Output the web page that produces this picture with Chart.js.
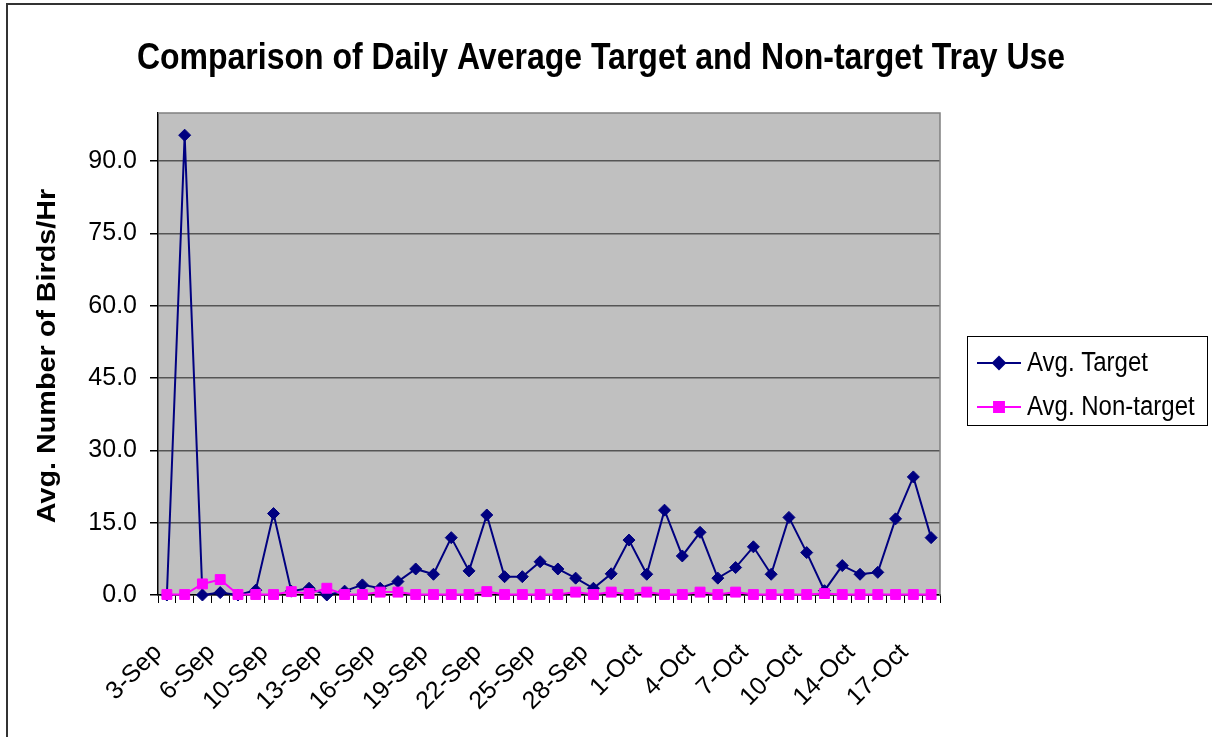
<!DOCTYPE html>
<html>
<head>
<meta charset="utf-8">
<script src="https://cdn.jsdelivr.net/npm/chart.js@4/dist/chart.umd.min.js"></script>
<style>
html,body{margin:0;padding:0;background:#fff;}
canvas{display:block;}
</style>
</head>
<body>
<canvas id="c" width="1212" height="737"></canvas>
<script>
const chartTitle = 'Comparison of Daily Average Target and Non-target Tray Use';
const yAxisTitle = 'Avg. Number of Birds/Hr';
const categories = ['3-Sep','4-Sep','5-Sep','6-Sep','7-Sep','8-Sep','10-Sep','11-Sep','12-Sep','13-Sep',
  '14-Sep','15-Sep','16-Sep','17-Sep','18-Sep','19-Sep','20-Sep','21-Sep','22-Sep','23-Sep',
  '24-Sep','25-Sep','26-Sep','27-Sep','28-Sep','29-Sep','30-Sep','1-Oct','2-Oct','3-Oct',
  '4-Oct','5-Oct','6-Oct','7-Oct','8-Oct','9-Oct','10-Oct','11-Oct','12-Oct','14-Oct',
  '15-Oct','16-Oct','17-Oct','18-Oct'];
const seriesNames = ['Avg. Target', 'Avg. Non-target'];
const avgTarget = [0, 95.4, 0, 0.5, 0, 1.0, 16.9, 0.8, 1.4, 0,
  0.8, 2.1, 1.4, 2.8, 5.4, 4.3, 11.9, 5.0, 16.6, 3.8,
  3.8, 6.9, 5.4, 3.5, 1.4, 4.4, 11.4, 4.3, 17.6, 8.1,
  13.0, 3.5, 5.7, 10.0, 4.3, 16.1, 8.8, 0.9, 6.1, 4.3,
  4.7, 15.8, 24.5, 11.9];
const avgNonTarget = [0.1, 0.1, 2.3, 3.2, 0.1, 0.1, 0.1, 0.7, 0.3, 1.4,
  0.1, 0.1, 0.6, 0.6, 0.1, 0.1, 0.1, 0.1, 0.7, 0.1,
  0.1, 0.1, 0.1, 0.6, 0.1, 0.6, 0.1, 0.6, 0.1, 0.1,
  0.6, 0.1, 0.6, 0.1, 0.1, 0.1, 0.1, 0.3, 0.1, 0.1,
  0.1, 0.1, 0.1, 0.1];
const yTicks = [0, 15, 30, 45, 60, 75, 90];
const yMax = 100;
const labelEvery = 3;

const FONT = "'Liberation Sans', Arial, sans-serif";
const NAVY = '#000080';
const MAGENTA = '#FF00FF';

const decor = {
  id: 'decor',
  beforeDraw(chart) {
    const {ctx, chartArea: a} = chart;
    ctx.save();
    ctx.fillStyle = '#fff';
    ctx.fillRect(0, 0, chart.width, chart.height);
    ctx.strokeStyle = '#333';
    ctx.lineWidth = 2;
    ctx.strokeRect(7, 4, chart.width + 20, chart.height + 20);
    ctx.fillStyle = '#C0C0C0';
    ctx.fillRect(a.left, a.top, a.right - a.left, a.bottom - a.top);
    ctx.restore();
  },
  beforeDatasetsDraw(chart) {
    const {ctx, chartArea: a} = chart;
    ctx.save();
    ctx.strokeStyle = '#808080';
    ctx.lineWidth = 1.5;
    ctx.beginPath();
    ctx.moveTo(a.left, a.top);
    ctx.lineTo(a.right, a.top);
    ctx.lineTo(a.right, a.bottom);
    ctx.stroke();
    ctx.restore();
  },
  afterDraw(chart) {
    const {ctx, chartArea: a} = chart;
    ctx.save();
    ctx.fillStyle = '#000';
    ctx.font = 'bold 32px ' + FONT;
    ctx.textAlign = 'center';
    ctx.textBaseline = 'middle';
    ctx.translate(601, 59);
    ctx.scale(1, 1.15);
    ctx.fillText(chartTitle, 0, 0);
    ctx.restore();

    ctx.save();
    ctx.fillStyle = '#000';
    ctx.font = 'bold 25px ' + FONT;
    ctx.textAlign = 'center';
    ctx.textBaseline = 'middle';
    ctx.translate(48, (a.top + a.bottom) / 2 + 2);
    ctx.rotate(-Math.PI / 2);
    ctx.scale(1.15, 1);
    ctx.fillText(yAxisTitle, 0, 0);
    ctx.restore();

    ctx.save();
    const bx = 967, by = 336, bw = 240, bh = 89;
    ctx.fillStyle = '#fff';
    ctx.fillRect(bx, by, bw, bh);
    ctx.strokeStyle = '#000';
    ctx.lineWidth = 1;
    ctx.strokeRect(bx + 0.5, by + 0.5, bw, bh);
    const rows = [by + 27, by + 71];
    chart.data.datasets.forEach((ds, i) => {
      const y = rows[i];
      ctx.strokeStyle = ds.borderColor;
      ctx.lineWidth = 2;
      ctx.beginPath();
      ctx.moveTo(977, y);
      ctx.lineTo(1021, y);
      ctx.stroke();
      Chart.helpers.drawPoint(ctx, {
        pointStyle: ds.pointStyle, radius: ds.pointRadius, rotation: 0,
        borderWidth: 1
      }, 999, y);
      ctx.fillStyle = ds.pointBackgroundColor;
      ctx.strokeStyle = ds.pointBorderColor;
      ctx.fill();
      ctx.fillStyle = '#000';
      ctx.font = '24px ' + FONT;
      ctx.textAlign = 'left';
      ctx.textBaseline = 'middle';
      ctx.save();
      ctx.translate(1027, y);
      ctx.scale(1, 1.15);
      ctx.fillText(ds.label, 0, 0);
      ctx.restore();
    });
    ctx.restore();
  }
};

new Chart(document.getElementById('c'), {
  type: 'line',
  data: {
    labels: categories,
    datasets: [
      {
        label: seriesNames[0], data: avgTarget,
        borderColor: NAVY, backgroundColor: NAVY,
        pointBackgroundColor: NAVY, pointBorderColor: NAVY,
        borderWidth: 2, pointStyle: 'rectRot', pointRadius: 6, pointBorderWidth: 1,
        tension: 0, clip: false, order: 2
      },
      {
        label: seriesNames[1], data: avgNonTarget,
        borderColor: MAGENTA, backgroundColor: MAGENTA,
        pointBackgroundColor: MAGENTA, pointBorderColor: MAGENTA,
        borderWidth: 2, pointStyle: 'rect', pointRadius: 7, pointBorderWidth: 1,
        tension: 0, clip: false, order: 1
      }
    ]
  },
  options: {
    responsive: false,
    animation: false,
    devicePixelRatio: 1,
    layout: { padding: { top: 113, right: 272, left: 0, bottom: 0 } },
    plugins: {
      legend: { display: false },
      title: { display: false },
      tooltip: { enabled: false }
    },
    scales: {
      x: {
        type: 'category',
        offset: true,
        grid: { drawOnChartArea: false, drawTicks: true, tickLength: 8, color: '#000', offset: true },
        border: { color: '#000', width: 1.5 },
        ticks: {
          autoSkip: false, maxRotation: 45, minRotation: 45,
          padding: 35,
          labelOffset: -9,
          color: '#000',
          font: { family: FONT, size: 25 },
          callback: (v, i) => (i % labelEvery === 0 ? categories[i] : '')
        },
        afterFit: (s) => { s.height = 142; }
      },
      y: {
        min: 0, max: yMax,
        afterBuildTicks: (s) => { s.ticks = yTicks.map(v => ({ value: v })); },
        grid: { color: '#555', lineWidth: 1.5, tickLength: 8, tickColor: '#000', drawTicks: true },
        border: { color: '#000', width: 1.5 },
        ticks: {
          padding: 13, color: '#000',
          font: { family: FONT, size: 25 },
          callback: (v) => Number(v).toFixed(1)
        },
        afterFit: (s) => { s.width = 158; }
      }
    }
  },
  plugins: [decor]
});
</script>
</body>
</html>
